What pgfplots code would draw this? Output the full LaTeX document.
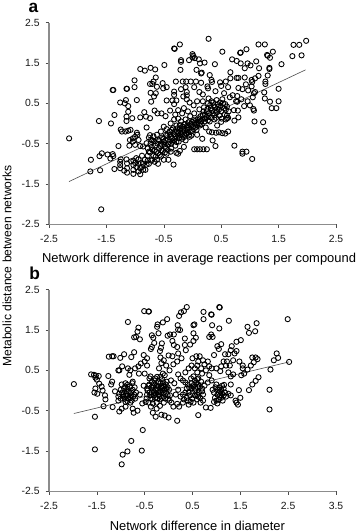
\documentclass[border=0pt]{standalone}
\usepackage{fontspec}
\setmainfont{Liberation Sans}
\usepackage{pgfplots}
\pgfplotsset{compat=1.18}
\definecolor{axgray}{gray}{0.55}
\pgfplotsset{
  panel/.style={
    scale only axis, width=215.25pt, height=151.2pt,
    axis x line=bottom, axis y line=left,
    axis line style={axgray, line width=0.8pt, -},
    tick style={black!70, line width=0.4pt},
    major tick length=2.5pt, tick align=outside,
    ymin=-2.5, ymax=2.5, ytick={-2.5,-1.5,-0.5,0.5,1.5,2.5},
    yticklabels={-2.5,-1.5,-0.5,0.5,1.5,2.5},
    tick label style={font=\fontsize{7.8}{9}\selectfont, text=black!90},
    clip=false, anchor=south west,
    xticklabel style={yshift=-2.5pt},
    yticklabel style={xshift=-1pt},
  },
  pts/.style={only marks, mark=o, mark size=1.95pt, mark options={line width=0.65pt, black}},
  fit/.style={no marks, line width=0.45pt, black!70},
}
\begin{document}
\begin{tikzpicture}
\path[use as bounding box] (0,0) rectangle (268.5pt,399pt);
\begin{axis}[panel, at={(36.75pt,230.8pt)}, xmin=-2.5, xmax=2.5,
  xtick={-2.5,-1.5,-0.5,0.5,1.5,2.5}, xticklabels={-2.5,-1.5,-0.5,0.5,1.5,2.5}]
\addplot[fit] coordinates {(-2.15,-1.44) (1.97,1.33)};
\addplot[pts] table {
-2.15 -0.37
-1.59 -2.13
-1.63 0.06
-1.42 0
-1.39 0.83
-1.38 0.83
-1.36 0.21
-1.15 0.86
-1.14 0.86
0.28 2.10
-0.22 1.96
-0.32 1.86
-0.31 1.85
1.98 2.05
1.76 1.95
1.86 1.95
1.15 1.96
1.26 1.96
1.74 1.67
1.90 1.69
1.55 1.47
1.40 1.78
1.30 1.70
1.31 1.68
1.35 1.63
0.94 1.84
0.84 1.76
0.83 1.75
0.52 1.78
0 1.72
0 1.64
0.01 1.68
-0.06 1.57
0.04 1.62
-0.2 1.57
-0.2 1.53
0.11 1.59
0.13 1.49
0.21 1.51
0.39 1.47
-0.49 1.45
-0.21 1.33
0.69 1.59
0.77 1.55
0.84 1.49
0.91 1.37
0.96 1.49
1.01 1.44
1.11 1.54
1.16 1.37
1.34 1.38
1.34 1.35
-0.91 1.35
-0.83 1.31
-0.73 1.38
-0.65 1.34
0.07 1.33
0.15 1.24
0.16 1.26
0.30 1.20
0.66 1.27
1.31 1.19
1.15 1.18
1.09 1.12
0.77 1.13
0.80 1.13
0.91 1.14
1.03 1.08
1.04 1.03
-1.01 1.07
-1.01 0.90
-0.64 1.14
-0.68 1.04
-0.74 0.98
-0.70 0.98
-0.52 1.0
-0.29 1.04
-0.17 1.04
-0.11 1.04
-0.03 1.04
0.06 1.04
0.15 1.01
0.33 1.08
0.34 1.03
0.48 1.02
0.58 1.04
0.66 1.12
1.27 1.04
1.27 0.98
1.50 0.86
1.25 0.77
1.26 0.62
1.35 0.54
1.5 0.55
1.38 0.38
1.46 0.38
1.23 0.03
1.26 -0.18
1.08 0.05
-0.97 0.58
-1.16 0.58
-1.26 0.52
-1.18 0.5
-1.12 0.43
-1.12 0.29
-1.15 0.17
-1.15 0.06
-1.05 0.13
-0.91 0.15
-0.84 0.28
-0.81 0.17
-0.74 0.13
-0.72 0.54
-0.67 0.67
-0.73 0.76
-0.64 0.75
-0.62 0.91
-0.51 0.87
-0.45 0.9
-0.32 0.79
-0.32 0.71
-0.45 0.57
-0.35 0.57
-0.28 0.57
-0.32 0.48
-0.39 0.32
-0.66 0.32
-0.61 0.25
-0.54 0.25
-0.47 0.18
-0.2 0.85
-0.12 0.9
-0.1 0.7
-0.1 0.78
-0.1 0.6
-0.16 0.67
-0.05 0.52
0.03 0.9
0.12 0.78
0.18 0.72
0.26 0.92
0.27 0.87
0.4 0.8
0.5 0.93
0.55 0.75
0.62 0.9
0.7 0.7
0.78 0.68
0.8 0.88
0.87 0.85
0.93 0.97
0.97 0.82
1.03 0.92
1.07 0.75
1.09 0.78
1.05 0.65
0.96 0.55
0.85 0.6
0.76 0.55
0.78 0.54
0.65 0.65
0.9 0.43
1.0 0.45
1.06 0.36
1.07 0.32
0.72 0.33
0.79 0.32
0.8 0.15
0.73 0.07
0.6 0.13
0.58 0.1
0.5 0.04
0.62 -0.2
0.57 -0.25
0.52 -0.24
0.46 -0.22
0.41 -0.23
0.34 -0.22
0.29 -0.2
0.35 -0.42
0.4 -0.56
0.73 -0.55
0.87 -0.7
0.87 -0.75
0.94 -0.7
1.04 -0.88
0.25 -0.64
0.19 -0.64
0.13 -0.64
0.08 -0.64
0.03 -0.64
-0.02 -0.3
-0.15 -0.58
-0.22 -0.68
-0.25 -0.75
-0.28 -0.73
-0.33 -1.02
-1.77 -0.9
-1.78 -1.19
-1.61 -1.16
-1.62 -0.81
-1.58 -0.74
-1.48 -0.77
-1.39 -0.76
-1.38 -0.81
-1.43 -0.87
-1.36 -1.13
-1.29 -0.56
-1.26 -1.11
-1.26 -1.03
-1.26 -0.95
-1.25 -0.89
-1.19 -1.17
-1.14 -1.22
-1.14 -1.11
-1.14 -0.99
-1.15 -0.89
-1.07 -0.94
-1.03 -1.25
-1.03 -1.15
-1.03 -1.03
-1.03 -0.92
-0.94 -1.19
-0.91 -1.26
-0.91 -1.11
-0.94 -1.0
-0.94 -0.89
-0.86 -1.15
-0.82 -1.15
-0.86 -1.0
-0.83 -0.9
-1.25 -0.15
-1.23 -0.2
-1.17 -0.2
-1.12 -0.18
-1.08 -0.16
-1.09 -0.41
-1.04 -0.37
-1.04 -0.45
-1 -0.33
-0.96 -0.28
-0.97 -0.23
-0.94 -0.41
-1.1 -0.55
-1 -0.53
-0.91 -0.56
-0.86 -0.57
-0.8 -0.49
-0.74 -0.29
-0.78 -0.8
-0.74 -0.72
-0.72 -0.92
-0.7 -0.65
-0.68 -0.8
-0.66 -0.95
-0.65 -0.55
-0.63 -0.7
-0.62 -0.9
-0.6 -0.4
-0.58 -0.62
-0.57 -0.78
-0.55 -0.5
-0.53 -0.35
-0.52 -0.68
-0.5 -0.9
-0.5 -0.45
-0.48 -0.58
-0.46 -0.28
-0.45 -0.75
-0.43 -0.4
-0.42 -0.52
-0.4 -0.2
-0.38 -0.33
-0.37 -0.62
-0.35 -0.45
-0.34 -0.12
-0.32 -0.27
-0.3 -0.38
-0.3 -0.55
-0.28 -0.05
-0.27 -0.2
-0.25 -0.3
-0.24 -0.45
-0.22 -0.12
-0.2 -0.25
-0.2 0.05
-0.18 -0.38
-0.16 -0.15
-0.15 -0.02
-0.14 -0.28
-0.12 0.1
-0.12 -0.42
-0.1 -0.1
-0.08 -0.22
-0.07 0.03
-0.05 -0.33
-0.04 0.18
-0.02 -0.05
0 -0.18
0.02 0.08
0.03 0.25
0.05 -0.1
0.07 -0.02
0.08 -0.28
0.1 0.13
0.12 0.35
0.13 -0.05
0.15 0.05
0.17 -0.38
0.18 0.22
0.2 0.4
0.22 0.12
0.23 -0.1
0.25 0.3
0.27 0.5
0.28 0.18
0.3 0.05
0.32 0.38
0.33 0.55
0.35 0.25
0.37 0.45
0.38 0.1
0.4 0.32
0.42 0.58
0.43 -0.05
0.45 0.42
0.47 0.2
0.48 0.52
0.5 0.3
0.52 0.6
0.55 0.38
0.57 0.48
0.6 0.2
0.63 0.3
-0.8 -0.1
-0.72 -0.4
-0.68 -0.32
-0.62 -0.28
-0.55 -0.2
-0.5 -0.08
-0.45 -0.14
-0.38 0
-0.32 0.1
-0.25 0.12
-0.18 0.25
-0.08 0.3
0.02 0.45
0.08 0.55
0.18 0.55
0.28 0.62
-0.78 -0.62
-0.76 -0.7
-0.7 -0.9
-0.6 -1.0
-0.7 -0.42
-0.48 -0.72
-0.42 -0.9
-0.55 -0.82
-0.38 -0.7
-0.15 0.38
-0.25 0.33
-0.3 0.22
-0.76 -0.35
-0.73 -0.5
-0.71 -0.58
-0.67 -0.44
-0.66 -0.66
-0.64 -0.82
-0.61 -0.5
-0.6 -0.74
-0.58 -0.42
-0.56 -0.56
-0.54 -0.66
-0.51 -0.38
-0.49 -0.52
-0.47 -0.42
-0.46 -0.6
-0.44 -0.3
-0.43 -0.66
-0.41 -0.46
-0.39 -0.28
-0.37 -0.5
-0.36 -0.16
-0.35 -0.36
-0.33 -0.42
-0.31 -0.2
-0.29 -0.32
-0.28 -0.46
-0.26 -0.12
-0.25 -0.24
-0.23 -0.36
-0.22 -0.04
-0.21 -0.18
-0.19 -0.3
-0.17 -0.08
-0.17 -0.22
-0.15 -0.34
-0.13 -0.02
-0.13 -0.18
-0.11 -0.26
-0.09 -0.05
-0.09 -0.16
-0.06 -0.1
-0.06 -0.28
-0.04 -0.02
-0.03 -0.2
-0.01 0.04
0.01 -0.08
0.02 -0.14
0.04 0.02
0.06 0.08
0.07 -0.16
0.09 0.04
0.11 -0.02
0.12 0.1
0.14 0.18
0.16 -0.02
0.17 0.1
0.19 0.3
0.21 0.05
0.22 0.22
0.24 0.16
0.26 0.36
0.27 0.08
0.29 0.26
0.31 0.46
0.33 0.14
0.34 0.32
0.36 0.52
0.38 0.2
0.39 0.4
0.41 0.14
0.43 0.28
0.44 0.48
0.46 0.34
0.49 0.44
0.51 0.12
0.53 0.5
0.56 0.22
0.58 0.34
0.6 0.42
0.62 0.14
-0.98 -1.08
-1.0 -0.98
-0.98 -0.86
-0.88 -1.08
-0.8 -1.02
-0.78 -0.92
-0.76 -1.0
-0.88 -0.8
-0.9 -0.98
};
\end{axis}
\begin{axis}[panel, at={(36.75pt,30.5pt)}, xmin=-2.5, xmax=3.5,
  xtick={-2.5,-1.5,-0.5,0.5,1.5,2.5,3.5}, xticklabels={-2.5,-1.5,-0.5,0.5,1.5,2.5,3.5}]
\addplot[fit] coordinates {(-1.98,-0.57) (2.52,0.71)};
\addplot[pts] table {
-1.98 0.16
-1.54 -0.65
-1.54 -1.46
-0.98 -1.83
-0.96 -1.59
-0.86 -1.51
-0.78 -1.25
-0.56 -1.49
-0.54 -0.98
0.18 -0.75
0.62 -0.61
2.11 -0.47
2.11 0.02
2.13 0.52
2.52 0.71
2.49 1.77
2.26 0.92
2.29 0.81
2.2 0.75
1.68 0.01
1.75 0.15
1.82 0.24
1.88 0.33
1.47 0.01
0.38 2.07
0.22 1.85
0.26 1.94
0.32 1.97
-0.51 1.97
-0.42 1.96
-0.41 1.96
1.06 2.07
1.07 2.06
0.73 1.95
0.89 1.89
0.9 1.88
0.73 1.77
1.26 1.73
-0.85 1.70
-0.03 1.77
-0.12 1.69
-0.23 1.64
-0.24 1.58
0.19 1.62
0.54 1.64
0.52 1.62
0.91 1.62
1.06 1.54
0.2 1.51
0.24 1.5
1.65 1.58
1.84 1.67
1.81 1.47
1.68 1.43
1.51 1.25
1.42 1.21
0.89 1.39
0.85 1.33
0.92 1.33
-0.63 1.56
-0.65 1.46
-0.68 1.33
-0.72 1.32
-0.6 1.27
-0.35 1.37
-0.32 1.31
-0.3 1.18
-0.35 1.08
-0.37 1.03
-0.21 1.42
-0.02 1.36
0.03 1.39
0.11 1.39
0.08 1.23
0.11 1.13
0.18 1.08
0.34 1.29
0.34 1.13
0.36 1.0
0.52 1.42
0.57 1.31
0.52 1.23
0.45 1.14
-0.14 1.17
-0.16 1.06
-0.18 0.98
-1.25 0.84
-1.18 0.85
-1.15 0.85
-1.01 0.81
-0.93 0.9
-1.05 0.5
-1.03 0.5
-1.26 0.36
-1.56 0.39
-1.62 0.4
-1.52 0.37
-1.53 0.32
-1.46 0.36
-1.5 0.27
-1.45 0.17
-1.4 0.1
-1.38 0
-1.53 0.05
-1.55 -0.05
-1.49 -0.08
-1.33 -0.12
-1.32 -0.22
-1.36 -0.39
-1.17 -0.41
-1.03 -0.52
-0.98 -0.45
-0.9 -0.4
-1.18 0.22
-1.2 0.15
-1.12 -0.02
-1.05 -0.15
-0.78 0.83
-0.72 0.95
-0.52 0.88
-0.45 0.8
-0.5 0.72
-0.58 0.67
-0.63 0.6
-0.7 0.55
-0.85 0.55
-0.8 0.5
-0.97 0.6
-0.82 0.39
-0.62 0.42
-0.45 0.62
-0.5 0.42
-0.38 0.35
-0.75 0.22
-0.9 0.18
-0.93 0.05
-0.88 -0.02
-0.95 -0.1
-0.85 -0.12
-0.92 -0.2
-0.8 -0.18
-0.78 -0.05
-0.72 -0.1
-0.7 -0.2
-0.98 0.15
-1.05 -0.25
-1.0 -0.2
-0.9 -0.28
-0.8 -0.3
-0.75 -0.45
-0.73 -0.55
-0.65 -0.5
-0.55 -0.32
-0.6 -0.1
-0.52 0.12
-0.45 0.05
-0.4 -0.05
-0.38 -0.2
-0.48 -0.28
-0.33 -0.32
-0.37 -0.4
-0.33 -0.55
-0.27 -0.65
-0.15 -0.6
-0.08 -0.62
0 -0.67
-0.25 -0.45
-0.18 -0.38
-0.1 -0.3
-0.32 0.1
-0.3 -0.05
-0.28 -0.18
-0.22 0.2
-0.24 0.05
-0.2 -0.1
-0.18 -0.22
-0.14 0.28
-0.15 0.12
-0.12 0
-0.1 -0.15
-0.06 0.15
-0.08 0.02
-0.02 -0.12
-0.02 0.08
0.02 -0.25
0.06 -0.3
-0.12 0.42
-0.2 0.55
-0.15 0.68
-0.1 0.75
-0.17 0.82
-0.05 0.62
0 0.87
0.02 0.5
0.08 0.85
0.1 0.65
0.18 0.72
0.2 0.92
0.27 0.8
0.05 0.25
0.12 0.18
0.2 0.02
0.25 -0.15
0.3 -0.3
0.18 -0.33
0.35 0.2
0.42 -0.05
0.4 0.15
0.47 0.3
0.5 -0.2
0.55 0.05
0.6 -0.1
0.5 0.1
0.62 0.15
0.55 0.25
0.62 0.3
0.7 -0.02
0.72 -0.25
0.75 0.12
0.67 -0.3
0.42 -0.35
0.35 0.45
0.55 0.55
0.6 0.62
0.5 0.8
0.65 0.85
0.72 0.75
0.78 0.5
0.7 0.42
0.85 0.38
0.9 0.25
0.85 0.6
0.95 0.88
1.02 1.1
1.1 1.15
1.05 1.03
1.0 0.55
1.08 0.48
1.15 0.72
1.2 0.62
1.25 0.9
1.3 1.0
1.32 1.1
1.38 0.92
1.42 0.98
1.25 0.45
1.3 0.35
1.35 0.4
1.15 0.05
1.08 -0.02
1.0 0.15
1.02 -0.1
1.1 -0.18
1.18 -0.05
1.25 -0.08
1.3 -0.12
1.4 -0.25
1.45 -0.35
1.5 -0.18
1.42 -0.3
0.95 -0.28
1.02 -0.32
0.88 -0.43
0.78 -0.42
1.05 -0.05
1.48 0.72
1.55 0.62
1.58 0.42
1.52 0.38
1.65 0.52
1.72 0.62
1.75 0.82
1.78 0.7
1.82 0.82
1.86 0.78
1.55 0.55
-0.35 0.22
-0.28 0.3
-0.4 0.3
0.82 0.2
0.62 -0.15
0.3 -0.1
0.38 0.05
0.15 -0.1
0.1 -0.4
0.22 -0.4
-0.45 -0.1
-0.42 0.12
-0.35 -0.05
-0.25 -0.3
-0.15 0.08
-0.05 -0.05
-0.3 0.18
-0.18 -0.02
0.48 0.05
0.6 0.45
0.9 0.55
0.92 0.02
0.98 0.08
1.12 0.12
1.2 -0.15
1.3 0.15
-1.03 -0.08
-1.0 0.02
-0.97 -0.05
-0.94 -0.15
-0.91 0.1
-0.89 -0.08
-0.86 0.05
-0.84 -0.2
-0.83 -0.02
-0.81 0.1
-0.79 -0.12
-0.77 -0.25
-0.75 0.02
-0.74 -0.15
-0.71 0.08
-0.68 -0.05
-0.9 -0.12
-0.86 -0.26
-0.76 0.18
-0.86 0.14
-0.46 -0.2
-0.44 0.0
-0.42 -0.3
-0.4 0.15
-0.38 -0.12
-0.36 0.08
-0.34 -0.22
-0.33 0.02
-0.31 -0.12
-0.29 0.25
-0.27 -0.1
-0.26 0.02
-0.25 0.12
-0.23 -0.2
-0.22 -0.04
-0.21 0.1
-0.19 -0.15
-0.17 0.18
-0.16 -0.06
-0.14 -0.18
-0.13 0.06
-0.11 0.2
-0.1 -0.06
-0.09 0.1
-0.07 -0.2
-0.05 0.06
-0.04 0.22
-0.01 -0.2
0.01 0.02
0.03 -0.12
-0.24 0.34
-0.17 0.34
-0.08 0.38
0.32 -0.22
0.35 -0.05
0.38 -0.18
0.4 -0.25
0.43 0.08
0.45 -0.12
0.46 -0.28
0.48 0.18
0.5 -0.06
0.52 -0.3
0.53 0.14
0.55 -0.12
0.56 -0.02
0.58 0.2
0.59 -0.22
0.61 0.08
0.63 -0.05
0.65 0.1
0.66 -0.18
0.68 0.22
0.7 0.05
0.72 -0.1
0.6 0.28
0.52 0.35
0.95 -0.05
0.97 -0.18
1.0 -0.25
1.03 0.02
1.05 -0.22
1.06 0.08
1.08 -0.12
1.1 0.02
1.12 -0.08
1.13 -0.25
1.15 -0.12
1.16 0.14
0.25 0.3
0.3 0.25
0.2 0.4
0.42 0.55
0.48 0.62
0.58 0.85
0.62 0.72
0.68 0.55
0.75 0.65
0.82 0.72
1.1 0.6
1.18 0.9
1.22 0.72
1.28 0.62
1.35 0.75
};
\end{axis}
\node[font=\bfseries\fontsize{13}{16}\selectfont, anchor=base, inner sep=0pt] at (25pt,389.3pt) {a};
\node[font=\bfseries\fontsize{13}{16}\selectfont, anchor=base, inner sep=0pt] at (26pt,189pt) {b};
\node[font=\fontsize{9.7}{11}\selectfont, anchor=center] at (149.3pt,204.7pt) {Network difference in average reactions per compound};
\node[font=\fontsize{9.7}{11}\selectfont, anchor=center] at (148pt,4.5pt) {Network difference in diameter};
\node[font=\fontsize{9.1}{11}\selectfont, anchor=center, rotate=90] at (5.2pt,199.5pt) {Metabolic distance between networks};
\end{tikzpicture}
\end{document}
